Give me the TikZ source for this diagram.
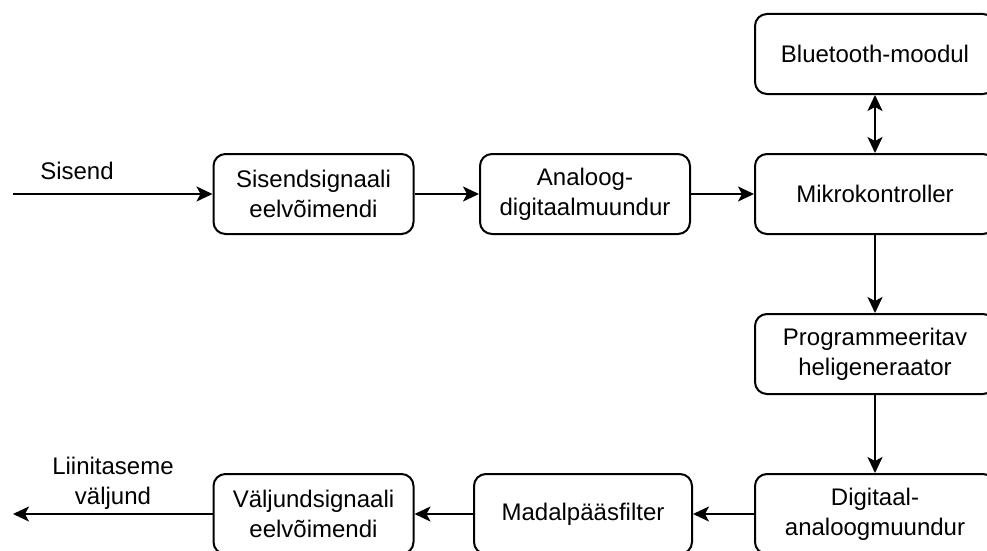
\documentclass[tikz,border=0pt]{standalone}
\usepackage{fontspec}
\setmainfont{Liberation Sans}
\usetikzlibrary{arrows.meta}
\tikzset{blok/.style={draw,rounded corners=12pt,minimum width=200pt,minimum height=80pt,inner sep=2pt,align=center,font=\fontsize{24}{30}\selectfont}}
\tikzset{pikk blok/.style={blok,minimum width=240pt}}
\tikzset{silt/.style={align=center,inner sep=0pt,font=\fontsize{24}{30}\selectfont}}

\begin{document}
\begin{tikzpicture}[x=1pt,y=1pt,>={Stealth[length=16pt,width=15pt,inset=4pt]},line width=2pt,node distance=160pt]
    \useasboundingbox (0,0) rectangle (987,-551);

    % parem veerg
    \node[pikk blok](mcu) at (875,-194){Mikrokontroller};
    \node[pikk blok](bt)[above of=mcu,node distance=140pt]{Bluetooth-moodul};
    \node[pikk blok](gen)[below of=mcu]{Programmeeritav\\heligeneraator};
    \node[pikk blok](dac)[below of=gen]{Digitaal-\\analoogmuundur};

    % sisend rida
    \node[blok,minimum width=210pt](adc)[left of=mcu,node distance=290pt]{Analoog-\\digitaalmuundur};
    \node[blok](pre)[left of=adc,node distance=271.5pt]{Sisendsignaali\\eelvõimendi};

    % väljund rida
    \node[blok,minimum width=218pt](lpf)[left of=dac,node distance=292pt]{Madalpääsfilter};
    \node[blok](post)[left of=lpf,node distance=269.5pt]{Väljundsignaali\\eelvõimendi};

    \coordinate (inp) at (13,-194);
    \coordinate (outp) at (13,-514);
    \node[silt](inlbl) at (77,-171){Sisend};
    \node[silt](outlbl) at (113,-483){Liinitaseme\\väljund};

    \path[->] (inp) edge (pre);
    \path[->] (pre) edge (adc);
    \path[->] (adc) edge (mcu);
    \path[<->] (bt) edge (mcu);
    \path[->] (mcu) edge (gen);
    \path[->] (gen) edge (dac);
    \path[->] (dac) edge (lpf);
    \path[->] (lpf) edge (post);
    \path[->] (post) edge (outp);

\end{tikzpicture}
\end{document}
